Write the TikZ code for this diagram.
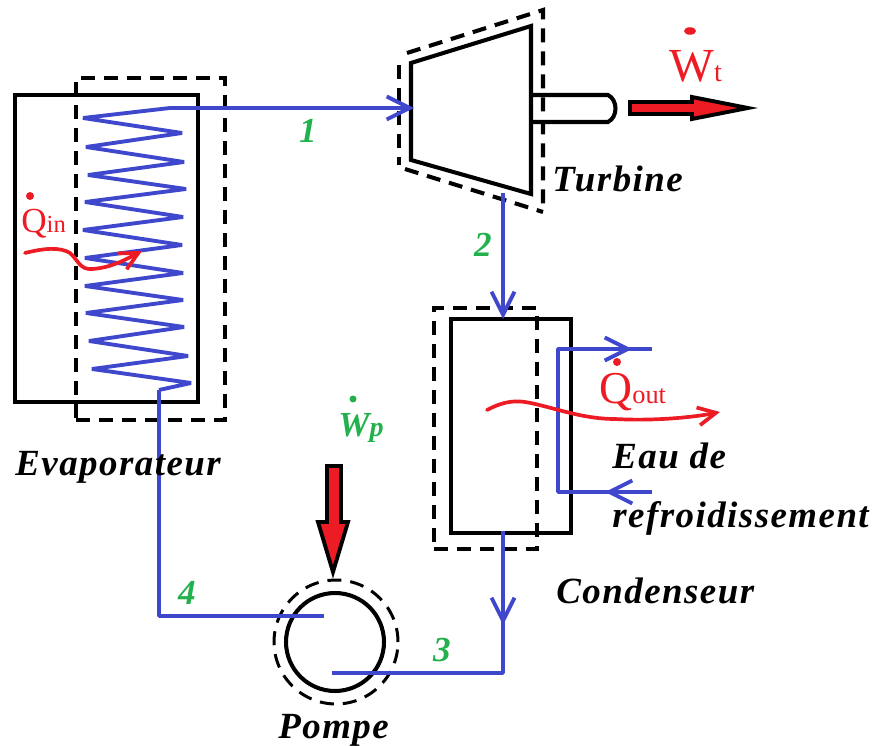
\documentclass[tikz,border=0pt]{standalone}
\usepackage{fontspec}
\setmainfont{Liberation Serif}
\newfontfamily\namefont[LetterSpace=4]{Liberation Serif}
\usetikzlibrary{arrows.meta,shapes.geometric}

\definecolor{pipeblue}{RGB}{63,72,204}
\definecolor{heatred}{RGB}{237,28,36}
\definecolor{numgreen}{RGB}{34,177,76}

\tikzset{
unit/.style={draw=black,line width=2.3pt,rectangle,inner sep=0},
limit/.style={draw=black,line width=2.3pt,dash pattern=on 0.28cm off 0.18cm},
pipe/.style={draw=pipeblue,line width=2.2pt,line join=bevel},
barb/.style={-{Straight Barb[length=0.46cm,width=0.46cm,line width=2.2pt]}},
heat/.style={draw=heatred,line width=2.1pt,line cap=round,-{Straight Barb[length=0.36cm,width=0.36cm,line width=2.1pt]}},
power/.style={draw=black,fill=heatred,line width=2.2pt,miter limit=20},
namelabel/.style={anchor=base west,inner sep=0,font=\namefont\bfseries\itshape\fontsize{21}{21}\selectfont},
number/.style={anchor=base,inner sep=0,text=numgreen,font=\bfseries\itshape\fontsize{20}{20}\selectfont},
symbol/.style={anchor=base west,inner sep=0,text=heatred},
point/.style={circle,fill=heatred,inner sep=0,minimum size=0.16cm}
}

\begin{document}
\begin{tikzpicture}[x=0.02cm,y=-0.02cm]
\useasboundingbox (0,0) rectangle (872,746);

\coordinate (coilout) at (170,108);
\coordinate (coilin) at (159,390);
\coordinate (turbin) at (414,108);
\coordinate (turbout) at (503,193);
\coordinate (condin) at (503,319);
\coordinate (condout) at (503,531);
\coordinate (pumpout) at (332,673);
\coordinate (pumpin) at (324,616);

% evaporateur
\node[unit,minimum width=3.66cm,minimum height=6.14cm] (evap) at (106.5,248.5) {};
\node[limit,rectangle,inner sep=0,minimum width=2.98cm,minimum height=6.84cm] (evaplimit) at (150.5,249) {};

\draw[pipe] (coilout) -- (83,118) -- (182,133) -- (86,147) -- (184,162) -- (88,175) -- (186,189)
 -- (85,202) -- (183,217) -- (83,230) -- (182,245) -- (85,258) -- (183,273) -- (85,286) -- (183,300)
 -- (86,313) -- (184,327) -- (89,341) -- (188,356) -- (92,369) -- (191,383) -- (coilin);

% turbine
\coordinate (ta) at (411,63);
\coordinate (tb) at (531,26);
\coordinate (tc) at (531,194);
\coordinate (td) at (411,160);
\draw[draw=black,line width=2.3pt] (ta) -- (tb) -- (tc) -- (td) -- cycle;
\draw[limit] (399,65) -- (399,165);
\draw[limit] (407,53) -- (543,10) -- (543,212);
\draw[limit] (405,169) -- (543,212);

\draw[draw=black,line width=2.3pt] (532,95) -- (608,95) .. controls (618,100) and (618,117) .. (608,122) -- (532,122);

\draw[power] (630,102) -- (692,102) -- (692,97) -- (748,108) -- (692,119) -- (692,114) -- (630,114) -- cycle;

% condenseur
\node[unit,minimum width=2.4cm,minimum height=4.28cm] (cond) at (511,426) {};
\node[limit,rectangle,inner sep=0,minimum width=2.06cm,minimum height=4.82cm] (condlimit) at (485.5,428.5) {};

% pompe
\node[unit,circle,minimum size=1.96cm] (pump) at (335,642) {};
\node[limit,circle,inner sep=0,minimum size=2.48cm,line width=1.7pt] (pumplimit) at (336,642) {};

\draw[power] (327,466) -- (341,466) -- (341,522) -- (348,522) -- (333,572) -- (318,522) -- (327,522) -- cycle;

% circuit
\draw[pipe,barb] (coilout) -- (turbin);
\draw[pipe,barb] (turbout) -- (condin);
\draw[pipe,barb] (condout) -- (503,625);
\draw[pipe] (503,600) -- (503,673) -- (pumpout);
\draw[pipe] (coilin) -- (159,616) -- (pumpin);

% eau de refroidissement
\coordinate (waterin) at (652,492);
\coordinate (waterout) at (652,349);
\draw[pipe,barb] (waterin) -- (605,492);
\draw[pipe] (630,492) -- (558,492) -- (558,349) -- (waterout);
\draw[pipe,barb] (558,349) -- (632,349);

% chaleur
\draw[heat] (25,253) .. controls (45,248) and (60,247) .. (70,253) .. controls (78,260) and (80,270) .. (92,269) .. controls (110,268) and (125,260) .. (142,251);
\draw[heat] (487,410) .. controls (500,403) and (512,400) .. (525,402) .. controls (550,406) and (580,419) .. (615,419) .. controls (650,421) and (690,418) .. (720,412);

% textes
\node[namelabel] (evapname) at (15,475) {Evaporateur};
\node[namelabel] (turbname) at (552,192) {Turbine};
\node[namelabel] (condname) at (556,603) {Condenseur};
\node[namelabel] (pumpname) at (278,738) {Pompe};
\node[namelabel] (eauname) at (612,468) {Eau de};
\node[namelabel] (refname) at (612,527) {refroidissement};

\node[number] (n1) at (308,143) {1};
\node[number] (n2) at (483,257) {2};
\node[number] (n3) at (442,661) {3};
\node[number] (n4) at (187,604) {4};

\node[point] (qindot) at (30,196) {};
\node[symbol,font=\fontsize{20}{20}\selectfont] (qin) at (21,233) {Q\fontsize{14}{14}\selectfont in};

\node[point] (qoutdot) at (617,362) {};
\node[symbol,font=\fontsize{26}{26}\selectfont] (qout) at (599,403) {Q\fontsize{15}{15}\selectfont out};

\node[point,ellipse,minimum width=0.24cm,minimum height=0.15cm] (wtdot) at (690,31) {};
\node[symbol,font=\fontsize{27}{27}\selectfont] (wt) at (669,82) {W\fontsize{16}{16}\selectfont t};

\node[point,fill=numgreen,minimum size=0.14cm] (wpdot) at (353,399) {};
\node[symbol,text=numgreen,font=\bfseries\itshape\fontsize{20}{20}\selectfont] (wp) at (338,437) {W\fontsize{16}{16}\selectfont p};

\end{tikzpicture}
\end{document}
